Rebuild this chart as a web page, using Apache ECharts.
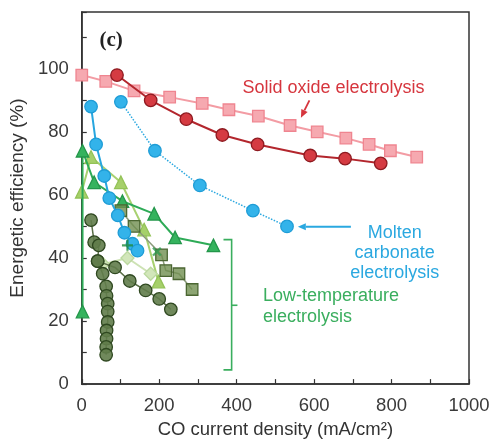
<!DOCTYPE html>
<html><head><meta charset="utf-8">
<script src="https://cdn.jsdelivr.net/npm/echarts@6/dist/echarts.min.js"></script>
<style>html,body{margin:0;padding:0;background:#fff}#chart{width:493px;height:444px}</style>
</head><body><div id="chart"></div>
<script>
// Solid oxide electrolysis
const soxSquareX = [0, 62, 135, 227, 311, 380, 456, 538, 608, 682, 742, 797, 865];
const soxSquareY = [98, 96, 93, 91, 89, 87, 85, 82, 80, 78, 76, 74, 72];
const soxCircleX = [91, 178, 270, 363, 454, 590, 680, 772];
const soxCircleY = [98, 90, 84, 79, 76, 72.5, 71.5, 70];
// Molten carbonate electrolysis
const mcDottedX = [101, 189, 305, 442, 530];
const mcDottedY = [89.5, 74, 63, 55, 50];
const mcSolidX = [24, 37, 58, 71, 93, 110, 131, 144];
const mcSolidY = [88, 76, 66, 59, 53.5, 48, 44.5, 42.3];
// Low-temperature electrolysis
const ltTriX = [2, 2, 32, 105, 187, 241, 340];
const ltTriY = [23, 74, 64, 58, 54, 46.5, 44];
const ltLightTriX = [0, 24, 101, 161, 198];
const ltLightTriY = [61, 72, 64, 49, 32.5];
const ltSquareX = [101, 135, 206, 217, 251, 285];
const ltSquareY = [55, 50, 41, 36, 35, 30];
const ltDiamondX = [55, 118, 178];
const ltDiamondY = [38, 40, 35];
const ltCircleAX = [24, 32, 44, 41, 54, 63, 64, 67, 67, 67, 64, 64, 63, 63];
const ltCircleAY = [52, 45, 44, 39, 35, 31, 28, 25.5, 23, 19.7, 17, 14.4, 11.8, 9.3];
const ltCircleBX = [41, 86, 124, 165, 200, 230];
const ltCircleBY = [39, 37, 32.7, 29.7, 27, 23.7];
const ltPlusX = [118];
const ltPlusY = [44];
const ltCrossX = [194];
const ltCrossY = [42];

// Axis ticks
const xTickLabels = [0, 200, 400, 600, 800, 1000];
const yTickLabels = [0, 20, 40, 60, 80, 100];

const pair = (xs, ys) => xs.map((x, i) => [x, ys[i]]);
const FONT = '"Liberation Sans", Arial, sans-serif';
const PLUS = 'path://M4,0h2v4h4v2h-4v4h-2v-4h-4v-2h4z';

function lineSeries(name, xs, ys, o) {
  return {
    name, type: 'line', data: pair(xs, ys), symbol: o.symbol, symbolSize: o.size || 12,
    showSymbol: true, z: o.z || 2, animation: false,
    lineStyle: { color: o.line, width: o.width || 2, type: o.type || 'solid' },
    itemStyle: { color: o.fill, borderColor: o.border, borderWidth: o.bw || 1.3 }
  };
}

const chart = echarts.init(document.getElementById('chart'), null, { renderer: 'canvas' });
const option = {
  animation: false,
  backgroundColor: '#fff',
  grid: { left: 81, right: 24, top: 12, bottom: 58.5, show: true, borderColor: '#333', borderWidth: 1.5, backgroundColor: 'transparent' },
  xAxis: {
    type: 'value', min: 0, max: 1000, interval: 100,
    name: 'CO current density (mA/cm²)', nameLocation: 'middle', nameGap: 35,
    nameTextStyle: { fontFamily: FONT, fontSize: 18.5, color: '#333' },
    axisLine: { lineStyle: { color: '#333', width: 1.5 } },
    axisTick: { inside: true, length: 5, lineStyle: { color: '#333', width: 1.2 } },
    axisLabel: { margin: 12, fontFamily: FONT, fontSize: 18.5, color: '#3a3a3a',
      formatter: v => xTickLabels.includes(v) ? String(v) : '' },
    splitLine: { show: false }
  },
  yAxis: {
    type: 'value', min: 0, max: 118, interval: 10,
    name: 'Energetic efficiency (%)', nameLocation: 'middle', nameGap: 50,
    nameTextStyle: { fontFamily: FONT, fontSize: 19, color: '#333' },
    axisLine: { lineStyle: { color: '#333', width: 1.5 } },
    axisTick: { inside: true, length: 5, lineStyle: { color: '#333', width: 1.2 } },
    axisLabel: { margin: 13, fontFamily: FONT, fontSize: 18.5, color: '#3a3a3a',
      formatter: v => yTickLabels.includes(v) ? String(v) : '' },
    splitLine: { show: false }
  },
  series: [
    lineSeries('soxSquare', soxSquareX, soxSquareY, { symbol: 'rect', size: 11.5, line: '#F39CA4', fill: '#F6A9B0', border: '#EF8590' }),
    lineSeries('soxCircle', soxCircleX, soxCircleY, { symbol: 'circle', size: 12.5, line: '#B3262D', fill: '#D53B42', border: '#8E1A20', z: 3 }),
    lineSeries('mcDotted', mcDottedX, mcDottedY, { symbol: 'circle', size: 12.5, line: '#2AA8E0', width: 1.5, type: 'dotted', fill: '#33B3EA', border: '#1E9CD6' }),
    lineSeries('ltTri', ltTriX, ltTriY, { symbol: 'triangle', size: 12.5, line: '#2EAB57', fill: '#35B35E', border: '#23964A', z: 4 }),
    lineSeries('ltLightTri', ltLightTriX, ltLightTriY, { symbol: 'triangle', size: 12.5, line: '#A8D170', fill: '#A6D06A', border: '#93C257', z: 3 }),
    lineSeries('ltDiamond', ltDiamondX, ltDiamondY, { symbol: 'diamond', size: 13, line: '#CDE2B4', fill: '#D2E6BA', border: '#BBD89F', z: 3 }),
    lineSeries('ltSquare', ltSquareX, ltSquareY, { symbol: 'rect', size: 11.5, line: '#8A9A7A', width: 1.5, fill: 'rgba(112,142,80,0.8)', border: '#4B6632', z: 4 }),
    lineSeries('ltCircleB', ltCircleBX, ltCircleBY, { symbol: 'circle', size: 12.5, line: '#5B7048', width: 1.5, fill: 'rgba(96,124,74,0.9)', border: '#2F4820', z: 4 }),
    lineSeries('ltCircleA', ltCircleAX, ltCircleAY, { symbol: 'circle', size: 12.5, line: '#5B7048', width: 1.5, fill: 'rgba(96,124,74,0.9)', border: '#2F4820', z: 4 }),
    lineSeries('mcSolid', mcSolidX, mcSolidY, { symbol: 'circle', size: 12.5, line: '#27A6DF', fill: '#33B3EA', border: '#1E9CD6', z: 5 }),
    { name: 'ltPlus', type: 'scatter', data: pair(ltPlusX, ltPlusY), symbol: PLUS, symbolSize: 11, z: 6,
      itemStyle: { color: '#1F8A3A' } },
    { name: 'ltCross', type: 'scatter', data: pair(ltCrossX, ltCrossY), symbol: PLUS, symbolSize: 11, symbolRotate: 45, z: 6,
      itemStyle: { color: '#2E9A4E' } }
  ]
};
chart.setOption(option);

// Annotations placed in data coordinates
const px = (x, y) => chart.convertToPixel({ gridIndex: 0 }, [x, y]);
const red = '#D6363E', blue = '#2AA8E0', green = '#3AAE5E';
const g = [];
function text(str, x, y, color, align, size) {
  const p = px(x, y);
  g.push({ type: 'text', x: p[0], y: p[1], z: 20,
    style: { text: str, fill: color, font: size + 'px ' + FONT, align: align, verticalAlign: 'middle', textAlign: align, textVerticalAlign: 'middle' } });
}
function arrow(x1, y1, x2, y2, color) {
  const a = px(x1, y1), b = px(x2, y2);
  const ang = Math.atan2(b[1] - a[1], b[0] - a[0]);
  const L = 8, W = 3.5;
  const bx = b[0] - L * Math.cos(ang), by = b[1] - L * Math.sin(ang);
  g.push({ type: 'line', z: 20, shape: { x1: a[0], y1: a[1], x2: bx, y2: by }, style: { stroke: color, lineWidth: 1.8 } });
  g.push({ type: 'polygon', z: 20, shape: { points: [b,
    [bx + W * Math.sin(ang), by - W * Math.cos(ang)],
    [bx - W * Math.sin(ang), by + W * Math.cos(ang)]] }, style: { fill: color } });
}
text('Solid oxide electrolysis', 650, 94, red, 'center', 18);
arrow(588, 90, 566, 84.5, red);
text('Molten', 808, 48, blue, 'center', 18);
text('carbonate', 808, 41.7, blue, 'center', 18);
text('electrolysis', 808, 35.2, blue, 'center', 18);
arrow(695, 49.9, 558, 49.9, blue);
text('Low-temperature', 468, 28, green, 'left', 18);
text('electrolysis', 468, 21.2, green, 'left', 18);
// bracket grouping the low-temperature data
const bt = px(387, 45.8), bb = px(387, 4.5), bl = px(366, 0)[0], bm = px(387, 25), br = px(402, 0)[0];
g.push({ type: 'polyline', z: 20, shape: { points: [[bl, bt[1]], [bt[0], bt[1]], [bb[0], bb[1]], [bl, bb[1]]] },
  style: { stroke: green, lineWidth: 1.6, fill: null } });
g.push({ type: 'line', z: 20, shape: { x1: bm[0], y1: bm[1], x2: br, y2: bm[1] }, style: { stroke: green, lineWidth: 1.6 } });
// panel tag
const tp = px(76, 109);
g.push({ type: 'text', x: tp[0], y: tp[1], z: 20,
  style: { text: '(c)', fill: '#222', font: 'bold 21px "Liberation Serif", "DejaVu Serif", serif', align: 'center', verticalAlign: 'middle', textAlign: 'center', textVerticalAlign: 'middle' } });
chart.setOption({ graphic: g });
</script>
</body></html>
